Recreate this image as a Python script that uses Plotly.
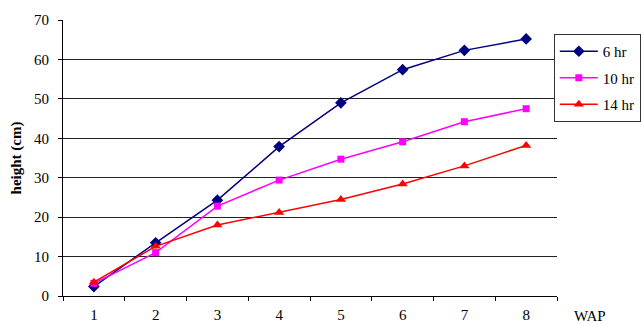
import plotly.graph_objects as go

# Weeks after planting (WAP) and plant height (cm) per photoperiod
wap = ["1", "2", "3", "4", "5", "6", "7", "8"]
height_6hr = [2.4, 13.5, 24.3, 37.9, 49.0, 57.4, 62.3, 65.2]
height_10hr = [3.2, 11.0, 22.8, 29.4, 34.7, 39.1, 44.2, 47.5]
height_14hr = [3.5, 12.6, 18.0, 21.2, 24.5, 28.4, 33.0, 38.2]
y_ticks = [0, 10, 20, 30, 40, 50, 60, 70]

serif = "Liberation Serif, Times New Roman, serif"

series = [
    ("6 hr", height_6hr, "#000080", "diamond", 9),
    ("10 hr", height_10hr, "#FF00FF", "square", 7),
    ("14 hr", height_14hr, "#FF0000", "triangle-up", 9),
]

fig = go.Figure()
for name, vals, color, symbol, size in series:
    fig.add_trace(go.Scatter(
        x=wap, y=vals, name=name, mode="lines+markers", legendgroup=name,
        line=dict(color=color, width=1.5),
        marker=dict(symbol=symbol, size=size, color=color),
    ))

fig.update_layout(
    width=641, height=324,
    margin=dict(l=63, r=84, t=20, b=28, autoexpand=False),
    paper_bgcolor="white", plot_bgcolor="white",
    font=dict(family=serif, size=15, color="black"),
    showlegend=True,
    legend=dict(
        xref="container", yref="container",
        x=0.864, xanchor="left", y=0.895, yanchor="top",
        bordercolor="#333333", borderwidth=1, bgcolor="white",
        font=dict(family=serif, size=15, color="black"),
        itemwidth=38, tracegroupgap=4,
    ),
    xaxis=dict(
        type="category", range=[-0.5, 7.5], automargin=False,
        showgrid=False, showline=True, linecolor="black", linewidth=1,
        ticks="outside", tickson="boundaries", ticklen=4, tickcolor="black",
        ticklabelstandoff=5, zeroline=False,
    ),
    yaxis=dict(
        range=[0, 70], tickvals=y_ticks, automargin=False,
        showgrid=True, gridcolor="#222222", gridwidth=1,
        showline=True, linecolor="black", linewidth=1,
        ticks="outside", ticklen=4, tickcolor="black",
        ticklabelstandoff=6, zeroline=False,
        title=dict(text="<b>height (cm)</b>", font=dict(family=serif, size=15), standoff=8),
    ),
    annotations=[dict(
        text="WAP", xref="paper", yref="paper", x=1.03, y=-0.035,
        xanchor="left", yanchor="top", showarrow=False,
        font=dict(family=serif, size=15, color="black"),
    )],
)

fig.write_html("out.html")
